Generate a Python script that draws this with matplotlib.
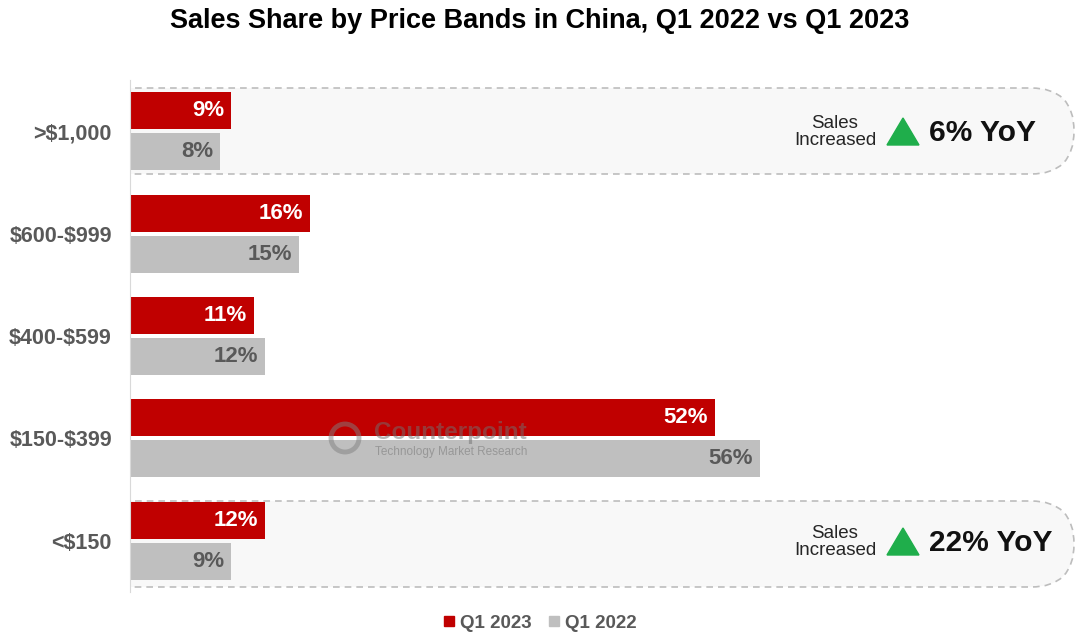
import matplotlib.pyplot as plt
from matplotlib.patches import FancyBboxPatch, Circle, Polygon
from matplotlib.lines import Line2D
from matplotlib.transforms import IdentityTransform

plt.rcParams['font.family'] = ['Liberation Sans', 'DejaVu Sans']
plt.rcParams['text.parse_math'] = False

# data
bands = ['>$1,000', '$600-$999', '$400-$599', '$150-$399', '<$150']
q1_2023 = [9, 16, 11, 52, 12]
q1_2022 = [8, 15, 12, 56, 9]
callouts = {0: '6% YoY', 4: '22% YoY'}

RED = '#c00000'
GREY = '#bfbfbf'
LABEL = '#595959'
W, H = 1080, 636

fig = plt.figure(figsize=(W / 100, H / 100), dpi=100)
ax = fig.add_axes([130 / W, 1 - 592 / H, 1 - 130 / W, (592 - 80) / H])


def fx(x):
    return x / W


def fy(y):
    return 1 - y / H


y = list(range(len(bands)))
bh = 0.36
off = 0.2
ax.barh([i - off for i in y], q1_2023, height=bh, color=RED, zorder=3, label='Q1 2023')
ax.barh([i + off for i in y], q1_2022, height=bh, color=GREY, zorder=3, label='Q1 2022')

for i in y:
    ax.text(q1_2023[i] - 0.6, i - off, f'{q1_2023[i]}%', ha='right', va='center',
            color='white', fontsize=16, fontweight='bold', zorder=4)
    ax.text(q1_2022[i] - 0.6, i + off, f'{q1_2022[i]}%', ha='right', va='center',
            color=LABEL, fontsize=16, fontweight='bold', zorder=4)

ax.set_xlim(0, (W - 130) / 11.25)
ax.set_ylim(len(bands) - 0.5, -0.5)
ax.set_yticks(y)
ax.set_yticklabels(bands, fontsize=15.5, fontweight='bold', color=LABEL)
ax.tick_params(axis='y', length=0, pad=13)
ax.set_xticks([])
for s in ['top', 'right', 'bottom']:
    ax.spines[s].set_visible(False)
ax.spines['left'].set_color('#d9d9d9')
ax.spines['left'].set_zorder(5)

# rounded dashed call-out boxes (pixel coords, clipped to axes)
for top_px, bot_px in [(88, 174), (501, 587)]:
    box = FancyBboxPatch((80, H - bot_px), 1074 - 80, bot_px - top_px,
                         boxstyle='round,pad=0,rounding_size=43',
                         transform=IdentityTransform(), facecolor='#f8f8f8',
                         edgecolor='#bdbdbd', linestyle=(0, (4, 3)), lw=1.2,
                         zorder=0, clip_on=True)
    ax.add_patch(box)

for i, txt in callouts.items():
    cy = 132 + i * 102.5
    fig.text(fx(835), fy(cy), 'Sales\nIncreased', ha='center', va='center',
             fontsize=13.5, color='#262626', linespacing=1.0)
    tri = Polygon([(fx(887), fy(cy + 13)), (fx(919), fy(cy + 13)), (fx(903), fy(cy - 14))],
                  closed=True, transform=fig.transFigure, color='#1fae4b')
    fig.patches.append(tri)
    fig.text(fx(929), fy(cy + 1), txt, ha='left', va='center',
             fontsize=21.5, fontweight='bold', color='#111111')

# watermark
ring = Circle((345, H - 438), 14, transform=IdentityTransform(), fill=False,
              edgecolor='#808080', lw=3.5, alpha=0.5, zorder=6)
fig.patches.append(ring)
fig.text(fx(374), fy(432), 'Counterpoint', ha='left', va='center', fontsize=17.5,
         fontweight='bold', color='#707070', alpha=0.5)
fig.text(fx(375), fy(452), 'Technology Market Research', ha='left', va='center',
         fontsize=8.5, color='#707070', alpha=0.5)

fig.suptitle('Sales Share by Price Bands in China, Q1 2022 vs Q1 2023',
             x=0.5, y=fy(21), va='center', fontsize=19.5, fontweight='bold')

handles = [Line2D([], [], marker='s', ls='', color=RED, markersize=7),
           Line2D([], [], marker='s', ls='', color=GREY, markersize=7)]
leg = fig.legend(handles, ['Q1 2023', 'Q1 2022'], loc='center', bbox_to_anchor=(0.5, fy(623)),
                 ncol=2, frameon=False, handlelength=0.6, handletextpad=0.3,
                 columnspacing=0.9, prop={'size': 13.5, 'weight': 'bold'})
for t in leg.get_texts():
    t.set_color(LABEL)

fig.savefig('out.png', dpi=100)
